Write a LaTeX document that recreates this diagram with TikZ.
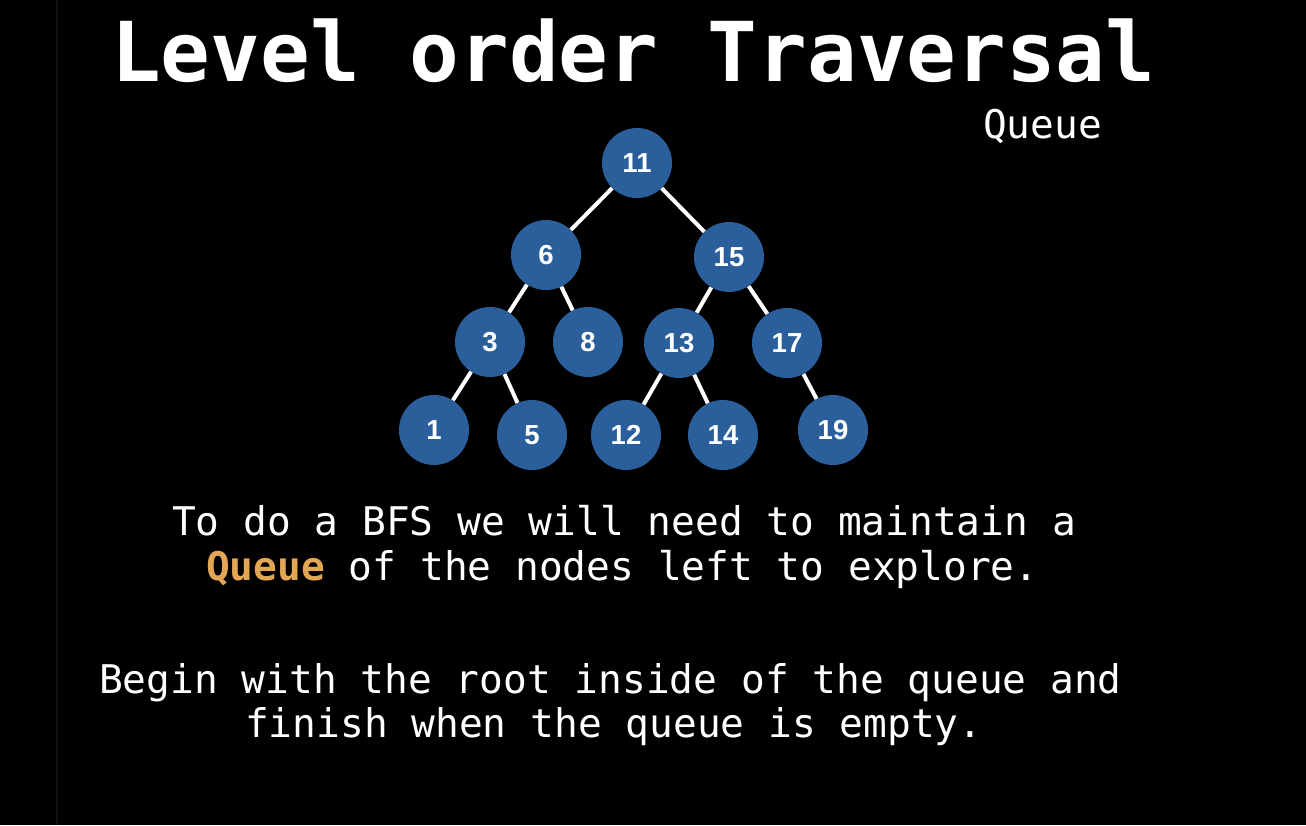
\documentclass[tikz,border=0pt]{standalone}
\usepackage{fontspec}
\setmonofont{DejaVu Sans Mono}
\newfontfamily\labelfont{Liberation Sans}
\definecolor{nodeblue}{HTML}{2B5F9C}
\definecolor{queueorange}{HTML}{E2A654}
\begin{document}
\begin{tikzpicture}[x=1pt,y=-1pt,
  treenode/.style={circle,fill=nodeblue,minimum size=70pt,inner sep=0pt,
    text=white,font=\labelfont\bfseries\fontsize{27.5}{27.5}\selectfont},
  edge/.style={draw=white,line width=4pt},
  bodytext/.style={anchor=base west,inner sep=0pt,text=white,
    font=\ttfamily\fontsize{39.5}{39.5}\selectfont}]
% background
\fill[black] (0,0) rectangle (1306,825);
\useasboundingbox (0,0) rectangle (1306,825);
\draw[color=black!94!white,line width=1.5pt] (57,0) -- (57,825);

% title and side label
\node[anchor=base west,inner sep=0pt,text=white,
  font=\ttfamily\bfseries\fontsize{82.6}{82.6}\selectfont] (title) at (111,81) {Level order Traversal};
\node[anchor=base west,inner sep=0pt,text=white,
  font=\ttfamily\fontsize{39.5}{39.5}\selectfont] (qlabel) at (983,138) {Queue};

% tree nodes
\node[treenode] (n11) at (637,163) {11};
\node[treenode] (n6)  at (546,255) {6};
\node[treenode] (n15) at (729,257) {15};
\node[treenode] (n3)  at (490,342) {3};
\node[treenode] (n8)  at (588,342) {8};
\node[treenode] (n13) at (679,343) {13};
\node[treenode] (n17) at (787,343) {17};
\node[treenode] (n1)  at (434,430) {1};
\node[treenode] (n5)  at (532,435) {5};
\node[treenode] (n12) at (626,435) {12};
\node[treenode] (n14) at (723,435) {14};
\node[treenode] (n19) at (833,430) {19};

% tree edges
\draw[edge] (n11) -- (n6);
\draw[edge] (n11) -- (n15);
\draw[edge] (n6) -- (n3);
\draw[edge] (n6) -- (n8);
\draw[edge] (n15) -- (n13);
\draw[edge] (n15) -- (n17);
\draw[edge] (n3) -- (n1);
\draw[edge] (n3) -- (n5);
\draw[edge] (n13) -- (n12);
\draw[edge] (n13) -- (n14);
\draw[edge] (n17) -- (n19);

% explanation
\node[bodytext] (l1) at (172,535) {To do a BFS we will need to maintain a};
\node[bodytext] (l2) at (206,580) {\textcolor{queueorange}{\bfseries Queue} of the nodes left to explore.};
\node[bodytext] (l3) at (99,693) {Begin with the root inside of the queue and};
\node[bodytext] (l4) at (245,737) {finish when the queue is empty.};
\end{tikzpicture}
\end{document}
